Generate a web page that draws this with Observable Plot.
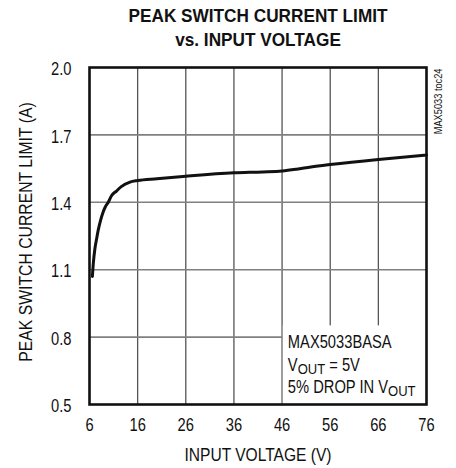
<!DOCTYPE html>
<html><head><meta charset="utf-8">
<script src="https://cdn.jsdelivr.net/npm/d3@7"></script>
<script src="https://cdn.jsdelivr.net/npm/@observablehq/plot@0.6"></script>
<style>body{margin:0;background:#fff}</style>
</head><body><div id="chart"></div>
<script>
const titleLines = ["PEAK SWITCH CURRENT LIMIT", "vs. INPUT VOLTAGE"];
const xLabel = "INPUT VOLTAGE (V)";
const yLabel = "PEAK SWITCH CURRENT LIMIT (A)";
const sideLabel = "MAX5033 toc24";
const xTicks = [6, 16, 26, 36, 46, 56, 66, 76];
const yTicks = [0.5, 0.8, 1.1, 1.4, 1.7, 2.0];
const voltage = [6.6, 6.8, 7.1, 7.5, 7.8, 8.3, 8.8, 9.3, 9.9, 10.6, 11.6, 12.6, 14.4, 16, 20, 26, 36, 42, 46, 49, 52, 56, 66, 76];
const current = [1.07, 1.13, 1.19, 1.24, 1.275, 1.32, 1.355, 1.38, 1.40, 1.43, 1.45, 1.47, 1.49, 1.497, 1.505, 1.516, 1.531, 1.535, 1.539, 1.547, 1.557, 1.568, 1.591, 1.61];
const noteLines = [
  [["MAX5033BASA", false]],
  [["V", false], ["OUT", true], [" = 5V", false]],
  [["5% DROP IN V", false], ["OUT", true]]
];

const data = voltage.map((v, i) => ({v, a: current[i]}));
const font = "'Liberation Sans', Arial, Helvetica, sans-serif";

const plot = Plot.plot({
  width: 456, height: 468,
  marginTop: 67, marginBottom: 64, marginLeft: 89, marginRight: 30,
  style: {fontFamily: font, fontSize: "17.5px", background: "white", color: "#111"},
  x: {domain: [6, 76]},
  y: {domain: [0.5, 2.0]},
  marks: [
    Plot.ruleX(xTicks.slice(1, -1), {stroke: "#555", strokeWidth: 1.3}),
    Plot.ruleY(yTicks.slice(1, -1), {stroke: "#808080", strokeWidth: 1.6}),
    Plot.rect([0], {x1: () => xTicks[4] + 0.25, x2: () => xTicks[7], y1: () => yTicks[0], y2: () => yTicks[1] + 0.05, fill: "white"}),
    Plot.line(data, {x: "v", y: "a", stroke: "#111", strokeWidth: 3, curve: "monotone-x"}),
    Plot.frame({stroke: "#111", strokeWidth: 2.6}),
    Plot.axisX({ticks: xTicks, tickSize: 0, tickPadding: 14, label: null, fontSize: 17.5}),
    Plot.axisY({ticks: yTicks, tickFormat: ".1f", tickSize: 0, tickPadding: 18, dy: 2, label: null, fontSize: 17.5}),
    Plot.text([xLabel], {frameAnchor: "bottom", dy: 56, fontSize: 17.5}),
    Plot.text([yLabel], {frameAnchor: "left", dx: -63, dy: -4, rotate: -90, textAnchor: "middle", fontSize: 17.5}),
    Plot.text([titleLines.join("\n")], {frameAnchor: "top", dy: -62, lineHeight: 1.28, fontSize: 18.5, fontWeight: "bold"}),
    Plot.text([sideLabel], {frameAnchor: "top-right", dx: 8, dy: 1, rotate: -90, textAnchor: "end", fontSize: 11})
  ]
});

document.getElementById("chart").append(plot);
const sx = plot.scale("x"), sy = plot.scale("y");
const svg = d3.select(plot);

// Narrow the typeface (the reference uses a condensed sans)
function squeeze(el, k) {
  const len = el.getComputedTextLength();
  if (len > 0) {
    el.setAttribute("textLength", (len * k).toFixed(2));
    el.setAttribute("lengthAdjust", "spacingAndGlyphs");
  }
  return len * k;
}
svg.selectAll("text").each(function() {
  const txt = this.textContent;
  const boldAttr = this.getAttribute("font-weight") || (this.parentNode.getAttribute && this.parentNode.getAttribute("font-weight"));
  let k = 0.84;
  if (boldAttr === "bold") k = 0.93;
  else if (txt === xLabel) k = 0.89;
  else if (txt === yLabel) k = 0.90;
  const tspans = this.querySelectorAll("tspan");
  if (tspans.length) tspans.forEach(ts => squeeze(ts, k));
  else squeeze(this, k);
});

// Annotation block: each piece is its own text, subscripts shifted down
const noteX = 47.3, noteY = [0.751, 0.649, 0.548];
noteLines.forEach((parts, i) => {
  let cx = sx.apply(noteX);
  const by = sy.apply(noteY[i]);
  parts.forEach(([s, sub]) => {
    const t = svg.append("text")
      .attr("x", cx).attr("y", by + (sub ? 3 : 0))
      .attr("text-anchor", "start")
      .attr("font-size", sub ? 15.5 : 17.5)
      .attr("fill", "#111").attr("font-family", font)
      .attr("xml:space", "preserve").style("white-space", "pre")
      .text(s);
    cx += squeeze(t.node(), 0.84);
  });
});
</script></body></html>
